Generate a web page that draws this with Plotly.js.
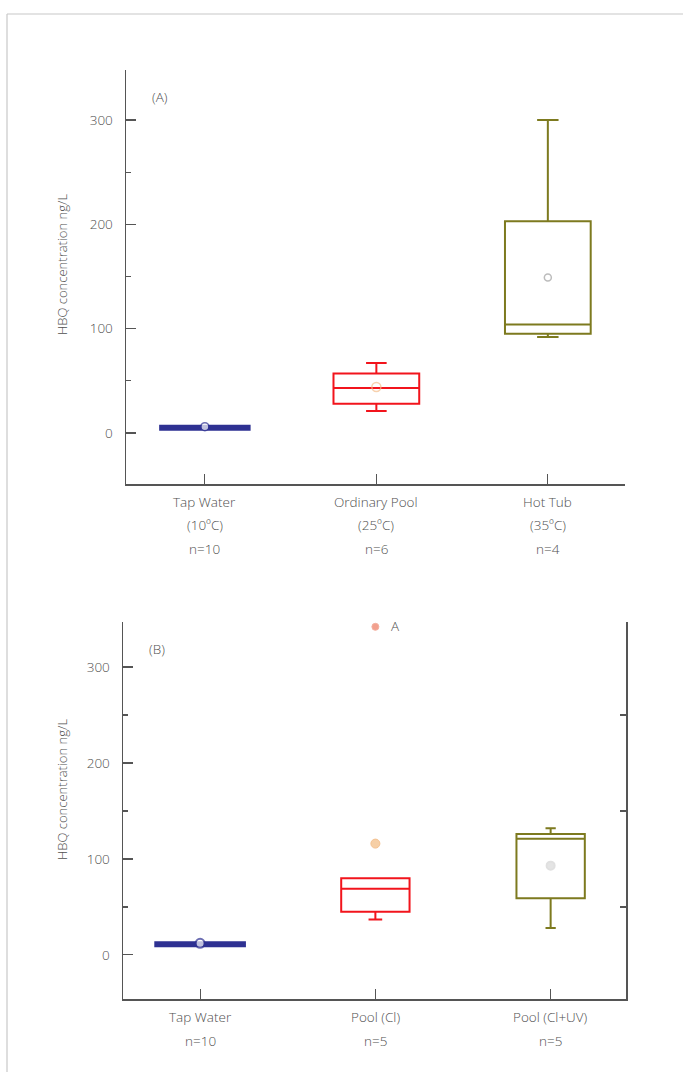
<!DOCTYPE html>
<html>
<head>
<meta charset="utf-8">
<script src="https://cdn.plot.ly/plotly-3.0.1.min.js"></script>
<style>html,body{margin:0;padding:0;background:#fff;}#chart{width:683px;height:1072px;}</style>
</head>
<body>
<div id="chart"></div>
<script>
// ---- Data ----
const catsA = ['Tap Water', 'Ordinary Pool', 'Hot Tub'];
const tempA = ['(10ºC)', '(25ºC)', '(35ºC)'];
const nA = ['n=10', 'n=6', 'n=4'];
const lowA = [4, 21, 92];
const q1A = [4, 28, 95];
const medA = [5, 43, 104];
const q3A = [6, 57, 203];
const highA = [6, 67, 300];
const meanA = [6, 44, 149];

const catsB = ['Tap Water', 'Pool (Cl)', 'Pool (Cl+UV)'];
const nB = ['n=10', 'n=5', 'n=5'];
const lowB = [10, 37, 28];
const q1B = [10, 45, 59];
const medB = [11, 69, 121];
const q3B = [12, 80, 126];
const highB = [12, 80, 132];
const meanB = [12, null, 93];
const outlierBx = [1];
const outlierBy = [116];
const extremeBx = [1];
const extremeBy = [342];
const extremeLabel = 'A';

const yTicks = [0, 100, 200, 300];

// ---- Styles ----
const colors = ['#2E3192', '#F2141C', '#7D7A1F'];
const txt = '#4f4f4f';
const font = {family: 'Open Sans, Noto Sans, sans-serif', size: 13.5, color: txt, weight: 300};

const W = 683, H = 1072;
const px = v => v / W;
const py = v => 1 - v / H;

const traces = [];
const lineWA = [4, 2, 2];
const widthA = [0.51, 0.5, 0.5];
const wwA = [0, 0.24, 0.25];
catsA.forEach((c, i) => {
  traces.push({
    type: 'box', xaxis: 'x', yaxis: 'y',
    x: [i], q1: [q1A[i]], median: [medA[i]], q3: [q3A[i]],
    lowerfence: [lowA[i]], upperfence: [highA[i]],
    width: widthA[i], whiskerwidth: wwA[i],
    line: {color: colors[i], width: lineWA[i]},
    fillcolor: 'rgba(255,255,255,0)', boxpoints: false,
    showlegend: false, hoverinfo: 'skip'
  });
});
traces.push({
  type: 'scatter', mode: 'markers', xaxis: 'x', yaxis: 'y',
  x: [0, 1, 2], y: meanA,
  marker: {symbol: 'circle', size: [8, 9, 7], color: ['#ffffff', 'rgba(255,255,255,0)', 'rgba(255,255,255,0)'], line: {color: ['#2E3192', '#F5BE8C', '#a0a0a0'], width: 1.5}},
  showlegend: false, hoverinfo: 'skip'
});

const lineWB = [4, 2, 2];
const widthB = [0.5, 0.39, 0.39];
const wwB = [0, 0.2, 0.15];
catsB.forEach((c, i) => {
  traces.push({
    type: 'box', xaxis: 'x2', yaxis: 'y2',
    x: [i], q1: [q1B[i]], median: [medB[i]], q3: [q3B[i]],
    lowerfence: [lowB[i]], upperfence: [highB[i]],
    width: widthB[i], whiskerwidth: wwB[i],
    line: {color: colors[i], width: lineWB[i]},
    fillcolor: 'rgba(255,255,255,0)', boxpoints: false,
    showlegend: false, hoverinfo: 'skip'
  });
});
traces.push({
  type: 'scatter', mode: 'markers', xaxis: 'x2', yaxis: 'y2',
  x: [0, 2], y: [meanB[0], meanB[2]],
  marker: {symbol: 'circle', size: [9, 8], color: ['#ffffff', '#dadada'], line: {color: ['#2E3192', '#d4d4d4'], width: 2}},
  showlegend: false, hoverinfo: 'skip'
});
traces.push({
  type: 'scatter', mode: 'markers', xaxis: 'x2', yaxis: 'y2',
  x: outlierBx, y: outlierBy,
  marker: {symbol: 'circle', size: 9, color: '#F6CFA6', line: {color: '#F4C190', width: 1}},
  showlegend: false, hoverinfo: 'skip'
});
traces.push({
  type: 'scatter', mode: 'markers', xaxis: 'x2', yaxis: 'y2',
  x: extremeBx, y: extremeBy, cliponaxis: false,
  marker: {symbol: 'circle', size: 7, color: '#F2A08E', line: {color: '#F4B0A0', width: 1}},
  showlegend: false, hoverinfo: 'skip'
});

const yaxisBase = {
  showline: true, linecolor: '#555', linewidth: 1.5,
  ticks: 'inside', ticklen: 10, tickcolor: '#555', tickwidth: 1.2,
  tickvals: yTicks, ticktext: yTicks.map(String),
  showgrid: false, zeroline: false, tickfont: font, ticklabelstandoff: 9,
  minor: {tickvals: [50, 150, 250], ticks: 'inside', ticklen: 5, tickcolor: '#555', tickwidth: 1.2, showgrid: false}
};
const xaxisBase = {
  showline: true, linecolor: '#555', linewidth: 1.5,
  ticks: 'inside', ticklen: 10, tickcolor: '#555', tickwidth: 1.2,
  tickvals: [0, 1, 2], ticktext: ['', '', ''],
  showgrid: false, zeroline: false, tickfont: font
};

const annotations = [];
const ann = (x, y, text, xref, extra) => Object.assign({
  x, y, xref: xref || 'paper', yref: 'paper', text, showarrow: false,
  font: font, xanchor: 'center', yanchor: 'middle'
}, extra || {});

catsA.forEach((c, i) => {
  annotations.push(ann(i, py(502), c, 'x'));
  annotations.push(ann(i, py(525), tempA[i], 'x'));
  annotations.push(ann(i, py(549), nA[i], 'x'));
});
catsB.forEach((c, i) => {
  annotations.push(ann(i, py(1017), c, 'x2'));
  annotations.push(ann(i, py(1041), nB[i], 'x2'));
});
const titleFont = Object.assign({}, font, {size: 13});
annotations.push(ann(px(62), py(265), 'HBQ concentration ng/L', 'paper', {textangle: -90, font: titleFont}));
annotations.push(ann(px(62), py(790), 'HBQ concentration ng/L', 'paper', {textangle: -90, font: titleFont}));
annotations.push(ann(px(160), py(97), '(A)', 'paper'));
annotations.push(ann(px(157), py(649), '(B)', 'paper'));
annotations.push(ann(px(395), py(626), extremeLabel, 'paper'));

const layout = {
  width: W, height: H,
  margin: {l: 0, r: 0, t: 0, b: 0},
  paper_bgcolor: '#fff', plot_bgcolor: '#fff',
  showlegend: false, boxmode: 'overlay',
  xaxis: Object.assign({}, xaxisBase, {domain: [px(126), px(625)], range: [-0.46, 2.45], anchor: 'y'}),
  yaxis: Object.assign({}, yaxisBase, {domain: [py(484), py(70)], range: [-49, 348], anchor: 'x'}),
  xaxis2: Object.assign({}, xaxisBase, {domain: [px(123), px(626)], range: [-0.44, 2.43], anchor: 'y2'}),
  yaxis2: Object.assign({}, yaxisBase, {domain: [py(999), py(622)], range: [-46, 347], anchor: 'x2'}),
  yaxis3: {
    overlaying: 'y2', side: 'right', anchor: 'x2', range: [-46, 347],
    showline: true, linecolor: '#555', linewidth: 1.5,
    ticks: 'inside', ticklen: 6, tickcolor: '#555', tickwidth: 1.2,
    tickvals: [50, 150, 250], showticklabels: false, showgrid: false, zeroline: false
  },
  annotations: annotations,
  shapes: [
    {type: 'line', xref: 'paper', yref: 'paper', x0: px(7), x1: 1, y0: py(14), y1: py(14), line: {color: '#c8c8c8', width: 1.2}},
    {type: 'line', xref: 'paper', yref: 'paper', x0: px(7), x1: px(7), y0: 0, y1: py(14), line: {color: '#c8c8c8', width: 1.2}}
  ]
};
// empty trace so that the right-hand axis of panel B is drawn
traces.push({type: 'scatter', mode: 'markers', xaxis: 'x2', yaxis: 'y3', x: [], y: [], showlegend: false, hoverinfo: 'skip'});

Plotly.newPlot('chart', traces, layout, {staticPlot: true, displayModeBar: false});
</script>
</body>
</html>
